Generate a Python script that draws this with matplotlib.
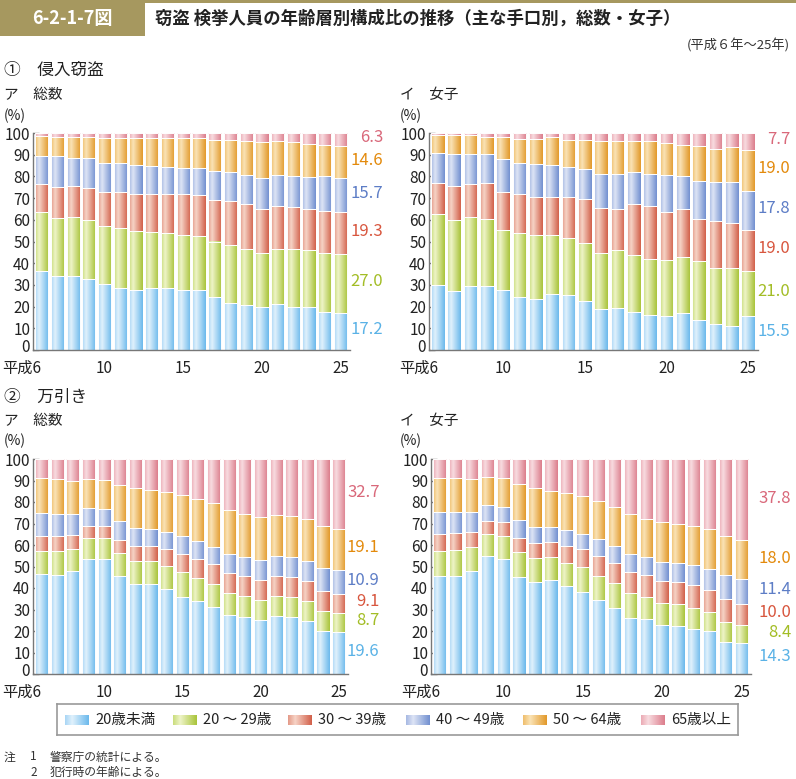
import numpy as np
import matplotlib
matplotlib.use('Agg')
import matplotlib.pyplot as plt
from matplotlib.colors import LinearSegmentedColormap
from matplotlib.patches import Rectangle
from matplotlib.transforms import ScaledTranslation, blended_transform_factory

plt.rcParams['font.family'] = ['Noto Sans CJK JP', 'DejaVu Sans']

# 平成6年～25年
years = list(range(6, 26))
age_groups = ['20歳未満', '20 ～ 29歳', '30 ～ 39歳', '40 ～ 49歳', '50 ～ 64歳', '65歳以上']

# ① 侵入窃盗 ア 総数 (%)
shin_total_u20 = [36.3, 34.1, 34.3, 32.6, 30.2, 28.5, 27.6, 28.5, 28.5, 27.6, 27.7, 24.4, 21.5, 20.6, 19.8, 21.2, 19.8, 19.8, 17.5, 17.2]
shin_total_20s = [27.4, 26.9, 27.1, 27.3, 26.8, 27.9, 27.1, 26.1, 25.2, 25.6, 24.9, 25.6, 26.7, 26.0, 25.0, 25.4, 26.8, 26.5, 27.0, 27.0]
shin_total_30s = [12.8, 14.0, 14.1, 14.8, 15.7, 16.3, 17.1, 17.2, 18.4, 18.9, 18.7, 19.1, 20.4, 20.6, 20.1, 19.9, 19.1, 18.9, 19.5, 19.3]
shin_total_40s = [12.7, 14.2, 13.2, 13.6, 13.7, 13.3, 13.3, 12.8, 12.2, 12.0, 12.5, 13.4, 13.4, 13.6, 14.4, 14.0, 14.3, 14.4, 16.0, 15.7]
shin_total_50s = [9.6, 9.1, 9.6, 10.0, 11.5, 11.9, 12.8, 13.3, 13.3, 13.5, 13.8, 14.5, 15.0, 15.4, 16.4, 15.7, 15.7, 15.4, 14.7, 14.6]
shin_total_65 = [1.2, 1.7, 1.7, 1.7, 2.1, 2.1, 2.1, 2.1, 2.4, 2.4, 2.4, 3.0, 3.0, 3.8, 4.3, 3.8, 4.3, 5.0, 5.3, 6.3]

# ① 侵入窃盗 イ 女子
shin_female_u20 = [30.0, 27.4, 29.7, 29.7, 27.6, 24.4, 23.6, 25.8, 25.2, 22.6, 18.9, 19.4, 17.4, 16.0, 15.7, 17.1, 14.0, 12.0, 11.1, 15.5]
shin_female_20s = [32.8, 32.5, 31.7, 30.8, 27.9, 29.7, 29.6, 27.1, 26.2, 26.6, 25.8, 26.9, 26.4, 25.9, 25.6, 25.6, 26.9, 25.7, 26.6, 21.0]
shin_female_30s = [14.2, 15.7, 15.1, 16.6, 17.2, 17.7, 17.2, 17.5, 19.0, 20.3, 20.8, 18.6, 23.4, 24.6, 22.4, 22.2, 19.6, 21.6, 21.0, 19.0]
shin_female_40s = [13.7, 14.8, 13.6, 13.1, 15.1, 14.2, 15.1, 14.7, 13.9, 13.7, 15.4, 16.0, 14.8, 14.4, 16.8, 15.1, 17.2, 18.1, 18.7, 17.8]
shin_female_50s = [8.4, 8.5, 8.8, 8.1, 10.5, 11.4, 11.9, 13.2, 12.7, 13.8, 15.6, 15.3, 14.2, 15.3, 14.8, 14.7, 16.5, 15.1, 16.0, 19.0]
shin_female_65 = [0.9, 1.1, 1.1, 1.7, 1.7, 2.6, 2.6, 1.7, 3.0, 3.0, 3.5, 3.8, 3.8, 3.8, 4.7, 5.3, 5.8, 7.5, 6.6, 7.7]

# ② 万引き ア 総数
man_total_u20 = [46.5, 46.1, 47.8, 53.7, 53.4, 45.5, 42.0, 41.7, 39.5, 36.0, 34.0, 31.3, 27.5, 26.7, 25.3, 27.0, 26.4, 24.7, 20.2, 19.6]
man_total_20s = [10.6, 11.0, 10.4, 9.4, 9.7, 10.7, 10.6, 10.9, 10.7, 11.5, 10.8, 10.7, 10.3, 9.7, 9.3, 9.4, 9.6, 9.4, 9.3, 8.7]
man_total_30s = [7.3, 6.9, 6.3, 5.7, 5.7, 6.3, 6.8, 6.8, 8.0, 8.4, 8.7, 9.1, 9.0, 9.4, 9.2, 9.4, 9.2, 9.3, 9.1, 9.1]
man_total_40s = [10.4, 10.2, 9.7, 8.2, 7.9, 8.5, 8.3, 8.0, 7.7, 8.1, 8.2, 8.2, 9.1, 8.5, 9.3, 9.1, 9.4, 9.2, 10.9, 10.9]
man_total_50s = [16.2, 16.5, 15.7, 13.7, 13.6, 17.1, 18.6, 18.4, 18.8, 19.3, 19.6, 20.2, 20.3, 20.1, 19.9, 18.9, 18.9, 19.3, 19.2, 19.1]
man_total_65 = [9.0, 9.3, 10.1, 9.3, 9.7, 11.9, 13.7, 14.2, 15.3, 16.7, 18.7, 20.5, 23.8, 25.6, 27.0, 26.2, 26.5, 28.1, 31.3, 32.7]

# ② 万引き イ 女子
man_female_u20 = [45.8, 45.8, 48.0, 54.9, 53.7, 45.1, 42.7, 43.5, 41.0, 38.1, 34.4, 30.7, 26.1, 25.6, 23.0, 22.4, 21.1, 19.8, 15.1, 14.3]
man_female_20s = [11.6, 12.1, 11.1, 10.1, 10.7, 11.7, 11.3, 11.0, 10.7, 11.6, 11.4, 11.4, 11.4, 10.4, 10.2, 10.0, 9.8, 9.2, 9.3, 8.4]
man_female_30s = [7.6, 7.5, 6.8, 6.0, 6.1, 6.5, 6.8, 6.8, 7.7, 8.3, 9.1, 9.4, 9.9, 10.0, 10.2, 10.2, 10.5, 9.9, 10.3, 10.0]
man_female_40s = [10.3, 9.9, 9.4, 7.5, 7.3, 8.3, 7.6, 7.1, 7.4, 7.3, 7.9, 7.9, 8.3, 8.2, 8.9, 9.1, 9.4, 10.0, 11.3, 11.4]
man_female_50s = [15.7, 15.7, 15.3, 13.3, 13.2, 16.7, 17.9, 16.9, 17.6, 17.3, 17.6, 18.1, 18.5, 17.9, 18.2, 17.9, 18.2, 18.5, 18.0, 18.0]
man_female_65 = [9.0, 9.0, 9.4, 8.2, 9.0, 11.7, 13.7, 14.7, 15.6, 17.4, 19.6, 22.5, 25.8, 27.9, 29.5, 30.4, 31.0, 32.6, 36.0, 37.8]

# colours: (left edge, highlight, right edge), label colour
grad_colors = [
    ('#a9d6f5', '#e0f1fc', '#6bb9ec'),
    ('#cadd7c', '#eef4c8', '#a9c43a'),
    ('#e49a88', '#f6d3c6', '#d2604a'),
    ('#a7b9e3', '#dde4f5', '#7290d0'),
    ('#efbe6c', '#fae3b6', '#e2992a'),
    ('#ebaab4', '#f8dce0', '#dc7d8c'),
]
label_colors = ['#5ab2e6', '#a3bd26', '#d8563e', '#5d7dc6', '#e38a0c', '#d9687a']

cmaps = [LinearSegmentedColormap.from_list('g%d' % i, [(0, c[0]), (0.3, c[1]), (1, c[2])])
         for i, c in enumerate(grad_colors)]
gradient = np.linspace(0, 1, 64).reshape(1, -1)

W, H = 796, 779
fig = plt.figure(figsize=(W / 100, H / 100), dpi=100)


def px_axes(x0, y_top, x1, y_bot):
    return fig.add_axes([x0 / W, 1 - y_bot / H, (x1 - x0) / W, (y_bot - y_top) / H])


def draw_panel(ax, series, lab_x):
    x = np.arange(len(years))
    bottom = np.zeros(len(years))
    for i, vals in enumerate(series):
        vals = np.array(vals)
        bars = ax.bar(x, vals, 0.84, bottom=bottom, facecolor='none',
                      edgecolor='white', linewidth=0.7, zorder=3)
        for r in bars:
            ax.imshow(gradient, extent=[r.get_x(), r.get_x() + r.get_width(),
                                        r.get_y(), r.get_y() + r.get_height()],
                      aspect='auto', cmap=cmaps[i], origin='lower',
                      interpolation='bilinear', zorder=2)
        # label at the right of the last bar
        mid = bottom[-1] + vals[-1] / 2 + 0.8
        ax.text(lab_x, mid, f'{vals[-1]:.1f}', transform=blended_transform_factory(ax.transAxes, ax.transData),
                ha='right', va='center', fontsize=12, color=label_colors[i])
        bottom = bottom + vals

    ax.set_xlim(-0.55, 19.6)
    ax.set_ylim(0, 100)
    ax.set_yticks(range(0, 101, 10))
    ax.set_xticks([0, 4, 9, 14, 19])
    ax.set_xticklabels(['平成6', '10', '15', '20', '25'])
    lbl = ax.get_xticklabels()[0]
    lbl.set_horizontalalignment('right')
    lbl.set_transform(lbl.get_transform() + ScaledTranslation(5 / 72, 0, fig.dpi_scale_trans))
    ax.tick_params(axis='y', direction='in', length=4, width=1, color='#777777',
                   pad=2, labelsize=11, labelcolor='#222222')
    ax.tick_params(axis='x', length=0, pad=7, labelsize=11, labelcolor='#222222')
    zero = ax.get_yticklabels()[0]
    zero.set_transform(zero.get_transform() + ScaledTranslation(0, 3 / 72, fig.dpi_scale_trans))
    for s in ['top', 'right']:
        ax.spines[s].set_visible(False)
    for s in ['left', 'bottom']:
        ax.spines[s].set_color('#777777')
        ax.spines[s].set_linewidth(1)
        ax.spines[s].set_zorder(4)


ax1 = px_axes(33, 133, 350, 350)
draw_panel(ax1, [shin_total_u20, shin_total_20s, shin_total_30s, shin_total_40s, shin_total_50s, shin_total_65], 1.105)
ax2 = px_axes(429, 133, 758, 350)
draw_panel(ax2, [shin_female_u20, shin_female_20s, shin_female_30s, shin_female_40s, shin_female_50s, shin_female_65], 1.098)
ax3 = px_axes(33, 459, 348, 674)
draw_panel(ax3, [man_total_u20, man_total_20s, man_total_30s, man_total_40s, man_total_50s, man_total_65], 1.1)
ax4 = px_axes(431, 459, 751, 674)
draw_panel(ax4, [man_female_u20, man_female_20s, man_female_30s, man_female_40s, man_female_50s, man_female_65], 1.125)


def ftext(x, y, s, **kw):
    fig.text(x / W, 1 - y / H, s, **kw)


# header
fig.patches.append(Rectangle((0, 1 - 36 / H), 145 / W, 36 / H, transform=fig.transFigure,
                             facecolor='#a6985f', edgecolor='none'))
fig.patches.append(Rectangle((145 / W, 1 - 3 / H), 1 - 145 / W, 3 / H, transform=fig.transFigure,
                             facecolor='#a6985f', edgecolor='none'))
ftext(72, 19, '6-2-1-7図', ha='center', va='center', fontsize=13, fontweight='bold', color='white')
ftext(155, 19, '窃盗 検挙人員の年齢層別構成比の推移（主な手口別，総数・女子）',
      ha='left', va='center', fontsize=12.5, fontweight='bold', color='#222222')
ftext(790, 46, '(平成６年～25年)', ha='right', va='center', fontsize=9.5, color='#333333')

ftext(4, 70, '①　侵入窃盗', ha='left', va='center', fontsize=12, color='#222222')
ftext(4, 95, 'ア　総数', ha='left', va='center', fontsize=10.5, color='#222222')
ftext(400, 95, 'イ　女子', ha='left', va='center', fontsize=10.5, color='#222222')
ftext(4, 116, '(%)', ha='left', va='center', fontsize=10, color='#222222')
ftext(400, 116, '(%)', ha='left', va='center', fontsize=10, color='#222222')

ftext(4, 397, '②　万引き', ha='left', va='center', fontsize=12, color='#222222')
ftext(4, 421, 'ア　総数', ha='left', va='center', fontsize=10.5, color='#222222')
ftext(400, 421, 'イ　女子', ha='left', va='center', fontsize=10.5, color='#222222')
ftext(4, 441, '(%)', ha='left', va='center', fontsize=10, color='#222222')
ftext(400, 441, '(%)', ha='left', va='center', fontsize=10, color='#222222')

# legend box
axl = px_axes(57, 704, 738, 735)
axl.set_xticks([])
axl.set_yticks([])
for s in axl.spines.values():
    s.set_color('#999999')
    s.set_linewidth(1.2)
leg_x = [65, 173, 288, 406, 523, 641]
for i, name in enumerate(age_groups):
    x0 = leg_x[i]
    axl.imshow(gradient, extent=[x0, x0 + 24, 725, 715], aspect='auto', cmap=cmaps[i],
               interpolation='bilinear')
    axl.text(x0 + 30, 719.5, name, ha='left', va='center', fontsize=10.5, color='#222222')
axl.set_xlim(57, 738)
axl.set_ylim(735, 704)

# notes
ftext(4, 757, '注', ha='left', va='center', fontsize=8.5, color='#333333')
ftext(30, 757, '1', ha='left', va='center', fontsize=8.5, color='#333333')
ftext(50, 757, '警察庁の統計による。', ha='left', va='center', fontsize=8.5, color='#333333')
ftext(30, 772, '2', ha='left', va='center', fontsize=8.5, color='#333333')
ftext(50, 772, '犯行時の年齢による。', ha='left', va='center', fontsize=8.5, color='#333333')

fig.savefig('out.png', dpi=100)
